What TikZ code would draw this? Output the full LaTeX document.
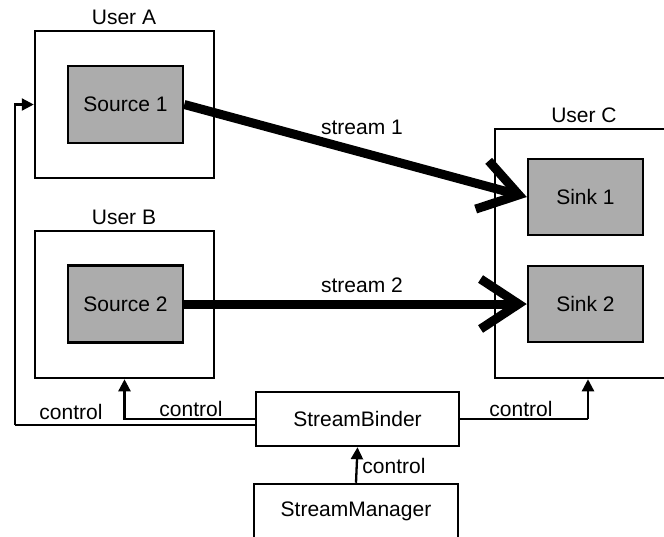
\documentclass[tikz,border=0pt]{standalone}
\usepackage{fontspec}
\setmainfont{Liberation Sans}
\usetikzlibrary{arrows.meta}
\definecolor{boxgray}{RGB}{172,172,172}
\begin{document}
\begin{tikzpicture}[x=1pt,y=-1pt,
  every node/.style={font=\fontsize{21}{25}\selectfont},
  frame/.style={draw, line width=2.5pt, inner sep=0pt},
  userbox/.style={frame, minimum width=179pt, minimum height=147pt},
  endbox/.style={frame, fill=boxgray, minimum width=115pt, minimum height=77pt},
  ctlbox/.style={frame, minimum width=203pt, minimum height=54pt},
  caption/.style={inner sep=0pt},
  ctrl/.style={line width=2.3pt, -{Triangle[length=12pt,width=12pt]}},
  ctrlplain/.style={line width=2.3pt},
  stream/.style={line width=9pt, -{Straight Barb[length=38pt,width=50pt]}}]
\useasboundingbox (0,0) rectangle (664,536);
\fill[white] (0,0) rectangle (664,536);

% users and their end points
\node[userbox] (userA) at (124.5,104.5) {};
\node[userbox] (userB) at (124.5,304.5) {};
\node[frame, minimum width=181pt, minimum height=249pt] (userC) at (585.5,253.5) {};
\node[caption] (labA) at (124,17) {User A};
\node[caption] (labB) at (124,217) {User B};
\node[caption] (labC) at (584,115) {User C};

\node[endbox] (src1) at (125.5,104.5) {Source 1};
\node[endbox] (src2) at (125.5,304) {Source 2};
\node[endbox, minimum height=76pt] (sink1) at (585.5,197) {Sink 1};
\node[endbox, minimum height=76pt] (sink2) at (585.5,304) {Sink 2};

% control components
\node[ctlbox] (binder) at (357.5,419) {StreamBinder};
\node[ctlbox, minimum width=204pt] (manager) at (356,511) {StreamManager};

% media streams
\draw[stream] (src1.east) -- (sink1.west);
\draw[stream] (src2.east) -- (sink2.west);
\node[caption] (s1) at (362,127) {stream 1};
\node[caption] (s2) at (362,285) {stream 2};

% control paths
\coordinate (bendL) at (15,425);
\coordinate (bendR) at (588,419);
\draw[ctrlplain] ([yshift=-6pt]binder.west) -- (bendL);
\draw[ctrl] (bendL) |- (userA.west);
\draw[ctrl] (binder.west) -| (userB.south);
\draw[ctrlplain] (binder.east) -- (bendR);
\draw[ctrl] (bendR) -- (bendR |- userC.south);
\draw[ctrl] (manager.north) -- (binder.south);

\node[caption] (c1) at (71,412) {control};
\node[caption] (c2) at (191,409) {control};
\node[caption] (c3) at (521,409) {control};
\node[caption] (c4) at (394,466) {control};
\end{tikzpicture}
\end{document}
